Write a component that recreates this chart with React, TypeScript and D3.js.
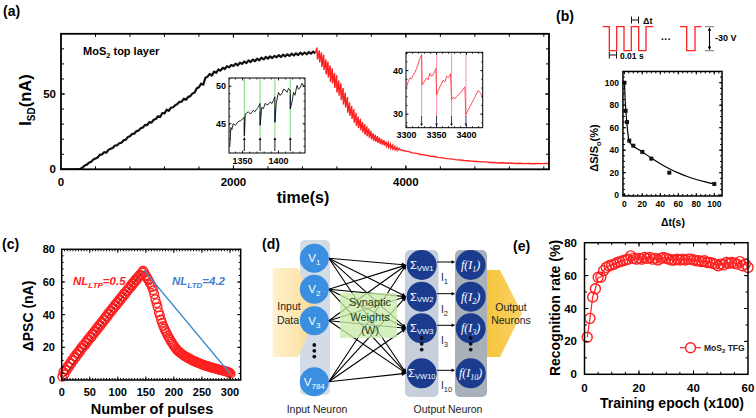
import React from 'react';
import * as d3 from 'd3';

const SANS = '"Liberation Sans", Arial, Helvetica, sans-serif';
const SERIF = '"Liberation Serif", "DejaVu Serif", serif';
const RED = '#ff2020';

/* ================= (a) data ================= */
const aXTicks = [0, 2000, 4000];
const aYTicks = [0, 50];
const aBlackStep = 25;
const aBlackValues = [
  0, 0, 0, 0, 0, 0, 0, 0, 0, 0.3, 1.2, 2.5, 3.1, 4.4, 5.0, 6.5, 7.2, 7.8, 9.6, 9.9,
  11.4, 11.0, 12.9, 13.6, 14.2, 15.8, 15.9, 17.3, 17.6, 19.2, 19.6, 21.4, 21.9, 23.5, 23.6, 25.4, 25.7, 27.2, 27.8, 29.5,
  29.4, 31.3, 31.0, 32.9, 33.4, 35.2, 34.8, 37.4, 37.1, 39.6, 38.8, 40.9, 41.2, 42.6, 43.3, 44.8, 45.0, 46.9, 46.2, 48.1,
  48.6, 50.4, 51.0, 53.8, 54.5, 56.9, 56.2, 60.8, 61.5, 63.4, 62.2, 64.9, 64.1, 66.3, 65.5, 67.4, 66.6, 68.5, 67.7, 69.3,
  68.6, 70.2, 69.1, 70.8, 70.0, 71.6, 70.5, 72.4, 71.2, 72.9, 71.8, 73.5, 72.4, 74.1, 73.0, 74.6, 73.5, 75.0, 73.9, 75.3,
  74.4, 75.8, 74.6, 76.1, 75.0, 76.4, 75.3, 76.8, 75.6, 77.0, 75.9, 77.5, 76.2, 77.6, 76.4, 77.9, 76.8, 78.2, 77.0,
];
const aPeakTime = 2968;
const aPeakValue = 80.8;
const aPulseStart = 2975;
const aPulseStep = 25;
const aPulseLows = [
  73, 71, 68, 66, 63, 61, 58, 57, 54, 51, 49, 46, 43, 41, 37.5, 35.5, 33.5, 31, 29, 27.5,
  26, 24.5, 23, 22, 21, 20, 19, 18.3, 17.6, 17, 16.4, 15.8, 15.2, 14.6, 14, 13.5, 13, 12.5,
];
const aPulseHighs = [
  79, 77.5, 76, 73, 71.5, 69, 67, 64, 62.5, 59, 57, 54, 51, 48, 44.5, 42, 40, 37.5, 35, 33.5,
  31.5, 30, 28.5, 27, 25.5, 24, 23, 22, 21, 20, 19.3, 18.5, 17.6, 16.8, 16, 15.2, 14.5, 13.8,
];
const aTailStart = 3925;
const aTailStep = 50;
const aTailValues = [
  13.2, 12.3, 11.9, 10.9, 10.6, 9.8, 9.4, 8.8, 8.5, 7.9, 7.6, 7.1, 6.9, 6.4, 6.2, 5.8, 5.7, 5.3,
  5.2, 4.9, 4.9, 4.5, 4.6, 4.2, 4.3, 4.0, 4.1, 3.9, 4.0, 3.8, 3.9, 3.7, 3.9, 3.8, 3.9, 3.8,
];

// inset 1 (LTP zoom)
const in1XTicks = [1350, 1400];
const in1YTicks = [45, 50];
const in1Time = [
  1332.2, 1333.6, 1335, 1336.8, 1340, 1343.8, 1347, 1350.9, 1352.3, 1352.5, 1353.7, 1357.9, 1361, 1364.9, 1367,
  1369.7, 1371.9, 1374.3, 1374.5, 1376.7, 1379, 1381.3, 1385, 1388.3, 1391, 1393, 1394.9, 1395.1, 1396.8, 1400,
  1402, 1404.8, 1407, 1409.4, 1412, 1414, 1416.4, 1416.6, 1418.8, 1421.1, 1423, 1425.8, 1428, 1430.5, 1432.9, 1436,
];
const in1Value = [
  42.1, 44.5, 44.2, 45.0, 44.8, 45.3, 45.4, 45.7, 45.9, 43.4, 46.3, 46.6, 46.3, 46.8, 46.6,
  47.0, 47.2, 47.7, 44.8, 47.2, 47.0, 47.7, 47.5, 47.9, 47.7, 48.1, 48.6, 45.2, 47.7, 49.2,
  48.8, 49.0, 49.6, 49.5, 49.2, 49.7, 49.5, 47.0, 47.9, 49.2, 48.8, 50.1, 49.6, 49.9, 50.4, 49.9,
];
const in1Pulses = [1352.4, 1374.4, 1395, 1416.5];
const in1PulseLows = [43.4, 44.8, 45.2, 47.0];

// inset 2 (LTD zoom)
const in2XTicks = [3300, 3350, 3400];
const in2YTicks = [30, 40];
const in2Time = [
  3300, 3303, 3305.6, 3308, 3311, 3314, 3316.7, 3319, 3322.2, 3325, 3326.1, 3330, 3333.3, 3336, 3338.9, 3341,
  3344.4, 3346.5, 3348.9, 3350, 3352, 3355.6, 3358, 3361, 3364, 3366.7, 3370, 3373.3, 3375, 3378, 3380.5, 3383.3,
  3386, 3389, 3391.7, 3394.5, 3397.2, 3398.9, 3401, 3405.6, 3409, 3413.9, 3416.5, 3419.4, 3422.2, 3424.5, 3426.7,
];
const in2Value = [
  36.3, 37.6, 38.3, 38.1, 39.0, 39.6, 40.5, 41.4, 42.8, 43.6, 36.7, 37.6, 38.3, 37.9, 39.4, 38.7,
  39.0, 39.8, 40.5, 34.4, 35.2, 36.3, 36.9, 37.8, 37.4, 38.7, 38.4, 39.3, 33.3, 33.9, 33.5, 34.0,
  34.4, 34.8, 35.1, 35.8, 36.3, 29.8, 30.6, 31.7, 32.6, 33.9, 34.6, 35.4, 35.0, 34.6, 34.0,
];
const in2Pulses = [3325, 3350, 3375, 3399];

/* ================= (b) data ================= */
const bTicks = [0, 20, 40, 60, 80, 100];
const bDt = [0.2, 1.5, 3, 5.5, 10, 20, 30, 50, 100];
const bValue = [100, 75, 65, 48.5, 44, 38.5, 32.5, 20, 10];
const bFitDt = [0.2, 1, 2, 3, 4, 5, 6, 8, 10, 15, 20, 30, 40, 50, 60, 70, 80, 90, 100];
const bFitValue = [100, 84, 72, 63, 55, 49.5, 47, 45, 43.5, 41, 38.5, 33, 28, 23.5, 19.8, 16.6, 14, 11.8, 10];

/* ================= (c) data ================= */
const cXTicks = [0, 50, 100, 150, 200, 250, 300];
const cYTicks = [0, 20, 40, 60, 80];
const cLtpStart = 1;
const cLtpStep = 2;
const cLtpValues = [
  2.0, 5.0, 3.5, 6.5, 6.0, 8.5, 8.0, 10.5, 10.0, 12.5, 12.0, 14.5, 13.8, 16.2, 15.8, 17.9, 17.5, 19.8, 19.6, 21.6,
  21.0, 23.3, 22.8, 25.0, 24.6, 26.8, 26.2, 28.4, 28.0, 30.1, 29.8, 32.0, 31.5, 33.6, 33.3, 35.5, 35.0, 37.2, 36.9, 39.0,
  38.6, 40.8, 40.4, 42.5, 42.1, 44.2, 43.9, 46.0, 45.6, 47.7, 47.3, 49.4, 49.0, 51.1, 50.8, 52.9, 52.4, 54.5, 54.2, 56.2,
  55.9, 58.0, 57.6, 59.6, 59.3, 61.3, 60.9, 62.9, 62.6, 64.4, 64.0, 66.0, 66.8,
];
const cLtdStart = 147;
const cLtdStep = 2;
const cLtdValues = [
  66.0, 64.0, 63.5, 62.0, 61.0, 59.5, 58.5, 57.0, 55.0, 52.5, 49.5, 47.0, 44.5, 41.5, 39.5, 37.0, 35.0, 33.0, 31.5, 30.0,
  28.8, 27.2, 26.0, 24.8, 23.6, 22.6, 21.5, 20.5, 19.5, 18.6, 17.9, 17.2, 16.8, 16.2, 15.6, 15.2, 14.7, 14.3, 14.0, 13.5,
  13.1, 12.8, 12.4, 12.0, 11.7, 11.4, 11.1, 10.8, 10.5, 10.2, 10.0, 9.7, 9.4, 9.2, 8.9, 8.7, 8.5, 8.2, 8.0, 7.8,
  7.6, 7.4, 7.2, 7.1, 6.9, 6.7, 6.5, 6.3, 6.1, 6.0, 5.8, 5.6, 5.4, 5.2, 5.0, 4.8, 4.5, 3.8,
];
const cLtpFitN = [0, 50, 100, 145];
const cLtpFitV = [0, 24, 47, 66.5];
const cLtdLineN = [147, 300];
const cLtdLineV = [67, 4];

/* ================= (d) labels ================= */
const dInputSubs = ['1', '2', '3', '784'];
const dOutputSubs = ['1', '2', '3', '10'];

/* ================= (e) data ================= */
const eXTicks = [0, 20, 40, 60];
const eYTicks = [0, 20, 40, 60, 80];
const eRate = [
  22.5, 34, 47, 52, 59, 59, 63, 65, 66, 66.5, 67, 68, 68.5, 69, 69.5, 70, 72, 70.5, 70, 70.5,
  70, 71, 70.5, 71, 70, 70.5, 69.5, 70.5, 71, 70.5, 70, 69.5, 69.5, 70, 69.5, 70, 69.5, 70, 70, 69.5,
  69, 69, 68.5, 69, 68, 68, 67.5, 67, 66, 67, 66.5, 68, 67.5, 68, 67.5, 67, 68.5, 66, 67, 65,
];

type Sc = d3.ScaleLinear<number, number>;

function Box(p: {
  L: number; R: number; T: number; B: number; xs: Sc; ys: Sc;
  xMaj: number[]; xMin: number[]; yMaj: number[]; yMin: number[];
  maj?: number; mn?: number; sw?: number; tw?: number; fill?: string;
}) {
  const { L, R, T, B, xs, ys, xMaj, xMin, yMaj, yMin } = p;
  const maj = p.maj ?? 4, mn = p.mn ?? 2.5, sw = p.sw ?? 1.5, tw = p.tw ?? 1;
  const els: React.ReactNode[] = [];
  const add = (k: string, x1: number, y1: number, x2: number, y2: number) =>
    els.push(<line key={k} x1={x1} y1={y1} x2={x2} y2={y2} />);
  xMin.forEach((v, i) => {
    const q = xs(v);
    if (q < L + 0.5 || q > R - 0.5) return;
    add('a' + i, q, B, q, B - mn);
    add('b' + i, q, T, q, T + mn);
  });
  xMaj.forEach((v, i) => {
    const q = xs(v);
    if (q < L + 0.5 || q > R - 0.5) return;
    add('c' + i, q, B, q, B - maj);
    add('d' + i, q, T, q, T + maj);
  });
  yMin.forEach((v, i) => {
    const q = ys(v);
    if (q < T + 0.5 || q > B - 0.5) return;
    add('e' + i, L, q, L + mn, q);
    add('f' + i, R, q, R - mn, q);
  });
  yMaj.forEach((v, i) => {
    const q = ys(v);
    if (q < T + 0.5 || q > B - 0.5) return;
    add('g' + i, L, q, L + maj, q);
    add('h' + i, R, q, R - maj, q);
  });
  return (
    <g>
      {p.fill ? <rect x={L} y={T} width={R - L} height={B - T} fill={p.fill} /> : null}
      <g stroke="#000" strokeWidth={tw} fill="none">{els}</g>
      <rect x={L} y={T} width={R - L} height={B - T} fill="none" stroke="#000" strokeWidth={sw} />
    </g>
  );
}

function Arrow({ x1, y1, x2, y2, color = '#000', head = 3.5, w = 1 }: any) {
  const ang = Math.atan2(y2 - y1, x2 - x1);
  const hx1 = x2 - head * Math.cos(ang - 0.45), hy1 = y2 - head * Math.sin(ang - 0.45);
  const hx2 = x2 - head * Math.cos(ang + 0.45), hy2 = y2 - head * Math.sin(ang + 0.45);
  return (
    <g>
      <line x1={x1} y1={y1} x2={x2 - (head * 0.6) * Math.cos(ang)} y2={y2 - (head * 0.6) * Math.sin(ang)} stroke={color} strokeWidth={w} />
      <path d={`M${x2},${y2}L${hx1},${hy1}L${hx2},${hy2}Z`} fill={color} />
    </g>
  );
}

function PanelA() {
  const x = d3.scaleLinear().domain([0, 5660]).range([61, 549]);
  const y = d3.scaleLinear().domain([0, 90]).range([169.3, 33.8]);
  const L = 61, R = 549, T = 33.8, B = 169.3;
  const line = d3.line<number[]>().x((d) => x(d[0])).y((d) => y(d[1]));
  const blackPts = aBlackValues.map((v, i) => [i * aBlackStep, v]);
  const last = blackPts[blackPts.length - 1];
  const redPts: number[][] = [last, [aPeakTime, aPeakValue]];
  aPulseLows.forEach((lo, k) => {
    const t = aPulseStart + k * aPulseStep;
    redPts.push([t, lo]);
    redPts.push([t + aPulseStep - 3, aPulseHighs[k]]);
  });
  aTailValues.forEach((v, i) => redPts.push([aTailStart + i * aTailStep, v]));

  // inset 1
  const i1x = d3.scaleLinear().domain([1331, 1437]).range([229, 305]);
  const i1y = d3.scaleLinear().domain([41.1, 51.1]).range([153, 78]);
  const i1line = d3.line<number>().x((_, i) => i1x(in1Time[i])).y((v) => i1y(v));
  // inset 2
  const i2x = d3.scaleLinear().domain([3299, 3427]).range([406, 482.7]);
  const i2y = d3.scaleLinear().domain([26.9, 44.2]).range([127.7, 52.3]);
  const i2line = d3.line<number>().x((_, i) => i2x(in2Time[i])).y((v) => i2y(v));

  return (
    <g>
      <text x={3} y={16} fontSize={14} fontWeight="bold" fontFamily={SANS}>(a)</text>
      <defs>
        <clipPath id="clipA"><rect x={L} y={T} width={R - L} height={B - T} /></clipPath>
      </defs>
      <g clipPath="url(#clipA)">
        <path d={line(blackPts) || ''} fill="none" stroke="#111" strokeWidth={2.2} strokeLinejoin="round" />
        <path d={line(redPts) || ''} fill="none" stroke={RED} strokeWidth={1.4} />
      </g>
      <Box L={L} R={R} T={T} B={B} xs={x} ys={y} xMaj={aXTicks} xMin={d3.range(0, 5660, 400)}
        yMaj={aYTicks} yMin={d3.range(0, 91, 10)} maj={4} mn={3} sw={1.8} />
      {aXTicks.map((v) => (
        <text key={v} x={x(v)} y={186} textAnchor="middle" fontSize={11.5} fontWeight="bold" fontFamily={SANS}>{v}</text>
      ))}
      {aYTicks.map((v) => (
        <text key={v} x={56} y={y(v) + 4} textAnchor="end" fontSize={11.5} fontWeight="bold" fontFamily={SANS}>{v}</text>
      ))}
      <text transform="translate(31,100) rotate(-90)" textAnchor="middle" fontSize={16.5} fontWeight="bold" fontFamily={SANS}>
        I<tspan fontSize={10} dy={4}>SD</tspan><tspan dy={-4}>(nA)</tspan>
      </text>
      <text x={303} y={203} textAnchor="middle" fontSize={16} fontWeight="bold" fontFamily={SANS}>time(s)</text>
      <text x={83} y={55} fontSize={11} fontWeight="bold" fontFamily={SANS}>
        MoS<tspan fontSize={7.5} dy={3}>2</tspan><tspan dy={-3}> top layer</tspan>
      </text>

      {/* inset 1 */}
      <rect x={229} y={78} width={76} height={75} fill="#fff" />
      {in1Pulses.map((t, i) => (
        <g key={t}>
          <line x1={i1x(t)} x2={i1x(t)} y1={78} y2={137} stroke="#8fe08f" strokeWidth={1.2} />
          <line x1={i1x(t)} x2={i1x(t)} y1={i1y(in1PulseLows[i])} y2={i1y(in1PulseLows[i] + 1.8)} stroke="#3a7bd5" strokeWidth={1.4} />
          <Arrow x1={i1x(t)} y1={151} x2={i1x(t)} y2={137} head={3.2} w={0.9} />
        </g>
      ))}
      <path d={i1line(in1Value) || ''} fill="none" stroke="#111" strokeWidth={0.9} />
      <Box L={229} R={305} T={78} B={153} xs={i1x} ys={i1y} xMaj={in1XTicks} xMin={d3.range(1340, 1437, 10)}
        yMaj={in1YTicks} yMin={d3.range(42, 52, 1)} maj={2.5} mn={1.5} sw={1} tw={0.8} />
      {in1XTicks.map((v) => (
        <text key={v} x={i1x(v)} y={164} textAnchor="middle" fontSize={9} fontWeight="bold" fontFamily={SANS}>{v}</text>
      ))}
      {in1YTicks.map((v) => (
        <text key={v} x={226} y={i1y(v) + 3} textAnchor="end" fontSize={9} fontWeight="bold" fontFamily={SANS}>{v}</text>
      ))}

      {/* inset 2 */}
      <rect x={406} y={52.3} width={76.7} height={75.4} fill="#fff" />
      {in2Pulses.map((t) => (
        <g key={t}>
          <line x1={i2x(t)} x2={i2x(t)} y1={52.3} y2={117} stroke="#ff5f80" strokeWidth={1.1} strokeDasharray="1.2,0.8" />
          <Arrow x1={i2x(t)} y1={116} x2={i2x(t)} y2={126.5} color="#1c2450" head={3.2} w={0.9} />
        </g>
      ))}
      <path d={i2line(in2Value) || ''} fill="none" stroke="#ff3a4a" strokeWidth={0.9} />
      <Box L={406} R={482.7} T={52.3} B={127.7} xs={i2x} ys={i2y} xMaj={in2XTicks} xMin={d3.range(3300, 3427, 10)}
        yMaj={in2YTicks} yMin={d3.range(28, 44.2, 2)} maj={2.5} mn={1.5} sw={1} tw={0.8} />
      {in2XTicks.map((v) => (
        <text key={v} x={i2x(v)} y={138} textAnchor="middle" fontSize={9} fontWeight="bold" fontFamily={SANS}>{v}</text>
      ))}
      {in2YTicks.map((v) => (
        <text key={v} x={403} y={i2y(v) + 3} textAnchor="end" fontSize={9} fontWeight="bold" fontFamily={SANS}>{v}</text>
      ))}
    </g>
  );
}

function PanelB() {
  const x = d3.scaleLinear().domain([0, 100]).range([624.3, 714.3]);
  const y = d3.scaleLinear().domain([0, 100]).range([195.2, 82.7]);
  const L = x(-1.5), R = x(108.6), T = y(110), B = y(-0.7);
  const fit = d3.line<number>().x((_, i) => x(bFitDt[i])).y((v) => y(v)).curve(d3.curveMonotoneX);
  const hi = 26.7, lo = 50.7;
  return (
    <g>
      <text x={556} y={21} fontSize={14} fontWeight="bold" fontFamily={SANS}>(b)</text>
      {/* pulse schematic */}
      <path d={`M602.7,${hi}H609.3V${lo}H616.7V${hi}H624V${lo}H631.3V${hi}H638.7V${lo}H646V${hi}H653.3`}
        fill="none" stroke={RED} strokeWidth={1.3} />
      <path d={`M680,${hi}H686.7V${lo}H695V${hi}H701.7`} fill="none" stroke={RED} strokeWidth={1.3} />
      <text x={666} y={43} textAnchor="middle" fontSize={10} fontWeight="bold" fontFamily={SANS}>···</text>
      <g stroke="#111" strokeWidth={1}>
        <line x1={631.5} x2={638.5} y1={20} y2={20} />
        <line x1={631.5} x2={631.5} y1={16.5} y2={23.5} />
        <line x1={638.5} x2={638.5} y1={16.5} y2={23.5} />
        <line x1={609.3} x2={616.5} y1={55} y2={55} />
        <line x1={609.3} x2={609.3} y1={51.5} y2={58.5} />
        <line x1={616.5} x2={616.5} y1={51.5} y2={58.5} />
        <line x1={705} x2={714} y1={hi} y2={hi} stroke="#777" />
        <line x1={705} x2={714} y1={lo} y2={lo} stroke="#777" />
      </g>
      <Arrow x1={709.5} y1={38} x2={709.5} y2={hi + 0.5} head={4} w={1.1} />
      <Arrow x1={709.5} y1={38} x2={709.5} y2={lo - 0.5} head={4} w={1.1} />
      <text x={643} y={24} fontSize={9} fontWeight="bold" fontFamily={SANS}>Δt</text>
      <text x={620} y={59} fontSize={8.5} fontWeight="bold" fontFamily={SANS}>0.01 s</text>
      <text x={715} y={41} fontSize={9} fontWeight="bold" fontFamily={SANS}>-30 V</text>

      <path d={fit(bFitValue) || ''} fill="none" stroke="#000" strokeWidth={1.2} />
      {bDt.map((t, i) => (
        <rect key={i} x={x(t) - 2} y={y(bValue[i]) - 2} width={4} height={4} fill="#111" />
      ))}
      <Box L={L} R={R} T={T} B={B} xs={x} ys={y} xMaj={bTicks} xMin={d3.range(0, 108, 5)}
        yMaj={bTicks} yMin={d3.range(0, 110, 5)} maj={3} mn={2} sw={1.5} />
      {bTicks.map((v) => (
        <text key={'x' + v} x={x(v)} y={207} textAnchor="middle" fontSize={8.5} fontWeight="bold" fontFamily={SANS}>{v}</text>
      ))}
      {bTicks.map((v) => (
        <text key={'y' + v} x={619} y={y(v) + 3} textAnchor="end" fontSize={8.5} fontWeight="bold" fontFamily={SANS}>{v}</text>
      ))}
      <text transform="translate(598,148) rotate(-90)" textAnchor="middle" fontSize={11} fontWeight="bold" fontFamily={SANS}>
        ΔS/S<tspan fontSize={7.5} dy={3}>o</tspan><tspan dy={-3}>(%)</tspan>
      </text>
      <text x={673} y={226} textAnchor="middle" fontSize={10.5} fontWeight="bold" fontFamily={SANS}>Δt(s)</text>
    </g>
  );
}

function PanelC() {
  const x = d3.scaleLinear().domain([0, 300]).range([61.7, 230]);
  const y = d3.scaleLinear().domain([0, 80]).range([380, 249.3]);
  const L = 61.7, R = x(319), T = 249.3, B = 380;
  const ltp = cLtpValues.map((v, i) => [cLtpStart + i * cLtpStep, v]);
  const ltd = cLtdValues.map((v, i) => [cLtdStart + i * cLtdStep, v]);
  const fit = d3.line<number>().x((_, i) => x(cLtpFitN[i])).y((v) => y(v)).curve(d3.curveMonotoneX);
  return (
    <g>
      <text x={2} y={249} fontSize={14} fontWeight="bold" fontFamily={SANS}>(c)</text>
      {ltp.concat(ltd).map((d, i) => (
        <circle key={i} cx={x(d[0])} cy={y(d[1])} r={4.3} fill="none" stroke={RED} strokeWidth={1.4} />
      ))}
      <path d={fit(cLtpFitV) || ''} fill="none" stroke="#7a1010" strokeWidth={0.8} />
      <line x1={x(cLtdLineN[0])} y1={y(cLtdLineV[0])} x2={x(cLtdLineN[1])} y2={y(cLtdLineV[1])} stroke="#3a8fd0" strokeWidth={1.3} />
      <Box L={L} R={R} T={T} B={B} xs={x} ys={y} xMaj={cXTicks} xMin={d3.range(0, 319, 5)}
        yMaj={cYTicks} yMin={d3.range(0, 80, 4)} maj={3.5} mn={2} sw={1.5} />
      {cXTicks.map((v) => (
        <text key={'x' + v} x={x(v)} y={396} textAnchor="middle" fontSize={11} fontWeight="bold" fontFamily={SANS}>{v}</text>
      ))}
      {cYTicks.map((v) => (
        <text key={'y' + v} x={55} y={y(v) + 4} textAnchor="end" fontSize={11} fontWeight="bold" fontFamily={SANS}>{v}</text>
      ))}
      <text transform="translate(33,316) rotate(-90)" textAnchor="middle" fontSize={14} fontWeight="bold" fontFamily={SANS}>ΔPSC (nA)</text>
      <text x={152} y={414} textAnchor="middle" fontSize={14.5} fontWeight="bold" fontFamily={SANS}>Number of pulses</text>
      <text x={73} y={285} fontSize={11.5} fontWeight="bold" fontStyle="italic" fill={RED} fontFamily={SANS}>
        NL<tspan fontSize={8} dy={3}>LTP</tspan><tspan dy={-3}>=0.5</tspan>
      </text>
      <text x={172} y={285} fontSize={11.5} fontWeight="bold" fontStyle="italic" fill="#3f7fcf" fontFamily={SANS}>
        NL<tspan fontSize={8} dy={3}>LTD</tspan><tspan dy={-3}>=4.2</tspan>
      </text>
    </g>
  );
}

function PanelD() {
  const vx = 314.3, vys = [258.3, 289.3, 320.7, 381.7];
  const sx = 421.7, fx = 470.7, oys = [265, 296.7, 328.3, 373.3];
  const r = 14.5;
  return (
    <g fontFamily={SANS}>
      <text x={262} y={249} fontSize={14} fontWeight="bold">(d)</text>
      <defs>
        <linearGradient id="inGrad" x1="0" x2="1" y1="0" y2="0">
          <stop offset="0" stopColor="#fff0c8" />
          <stop offset="1" stopColor="#fbd98a" />
        </linearGradient>
        <linearGradient id="outGrad" x1="0" x2="1" y1="0" y2="0">
          <stop offset="0" stopColor="#f6c53c" />
          <stop offset="1" stopColor="#f9d36a" />
        </linearGradient>
      </defs>
      {/* column backgrounds */}
      <rect x={300} y={240} width={30} height={155} rx={5} fill="#d3dbe6" />
      <rect x={405} y={250} width={33.5} height={147} rx={5} fill="#c6cfdb" />
      <rect x={455} y={250} width={32} height={147} rx={5} fill="#a8b0ba" />
      {/* arrows */}
      <polygon points="272.7,268 298,268 318,312.5 298,357 272.7,357" fill="url(#inGrad)" opacity={0.9} />
      <polygon points="487,270 500,270 522,313 500,357 487,357" fill="url(#outGrad)" />
      {/* connection lines */}
      <g>
        {vys.map((vy, i) => oys.map((oy, j) => {
          const x1 = vx + r, x2 = sx - r - 1;
          return <Arrow key={i + '-' + j} x1={x1} y1={vy} x2={x2} y2={oy} head={5} w={1.1} />;
        }))}
      </g>
      <rect x={340} y={293} width={57} height={45} fill="#c9ecab" opacity={0.78} />
      <g fontSize={11} fill="#24421c" textAnchor="middle">
        <text x={370} y={305.5}>Synaptic</text>
        <text x={370} y={320.5}>Weights</text>
        <text x={370} y={334}>(W)</text>
      </g>
      <g fontSize={10.5} fill="#222" textAnchor="middle">
        <text x={289} y={310}>Input</text>
        <text x={288} y={324}>Data</text>
        <text x={511} y={310.5}>Output</text>
        <text x={511} y={324}>Neurons</text>
      </g>
      {/* input neurons */}
      {vys.map((vy, i) => (
        <g key={i}>
          <circle cx={vx} cy={vy} r={r} fill="#3b8fe0" />
          <text x={vx} y={vy + 4} textAnchor="middle" fill="#fff" fontSize={11.5}>
            V<tspan fontSize={8} dy={3}>{dInputSubs[i]}</tspan>
          </text>
        </g>
      ))}
      {oys.map((oy, i) => (
        <g key={i}>
          <circle cx={sx} cy={oy} r={r + 0.5} fill="#1b3c8e" />
          <text x={sx} y={oy + 4} textAnchor="middle" fill="#fff" fontSize={11.5}>
            Σ<tspan fontSize={7.5} dy={1.5}>VW{dOutputSubs[i]}</tspan>
          </text>
          <circle cx={fx} cy={oy} r={r + 0.5} fill="#1b3c8e" />
          <text x={fx} y={oy + 4} textAnchor="middle" fill="#fff" fontSize={12} fontFamily={SERIF} fontStyle="italic">
            f(I<tspan fontSize={8} dy={3}>{dOutputSubs[i]}</tspan><tspan dy={-3}>)</tspan>
          </text>
          <Arrow x1={sx + r + 1} y1={oy - 3} x2={fx - r - 1} y2={oy - 3} head={4} w={1} />
          <text x={441} y={oy + 16} fontSize={10} fill="#222">
            I<tspan fontSize={7.5} dy={3}>{dOutputSubs[i]}</tspan>
          </text>
        </g>
      ))}
      {[0, 1, 2].map((k) => (
        <g key={k} fill="#111">
          <circle cx={vx} cy={345 + k * 5.8} r={1.9} />
          <circle cx={sx} cy={338 + k * 5.8} r={1.9} />
          <circle cx={fx} cy={338 + k * 5.8} r={1.9} />
        </g>
      ))}
      <text x={317} y={413} textAnchor="middle" fontSize={10.5} fill="#222">Input Neuron</text>
      <text x={448} y={413} textAnchor="middle" fontSize={10.5} fill="#222">Output Neuron</text>
    </g>
  );
}

function PanelE() {
  const x = d3.scaleLinear().domain([0, 60]).range([584.5, 748]);
  const y = d3.scaleLinear().domain([0, 80]).range([374.3, 242.7]);
  const L = 584.5, R = 748, T = 242.7, B = 374.3;
  const line = d3.line<number>().x((_, i) => x(i + 1)).y((v) => y(v));
  return (
    <g>
      <text x={513} y={251} fontSize={14} fontWeight="bold" fontFamily={SANS}>(e)</text>
      <path d={line(eRate) || ''} fill="none" stroke={RED} strokeWidth={1.2} />
      {eRate.map((v, i) => (
        <circle key={i} cx={x(i + 1)} cy={y(v)} r={5} fill="none" stroke={RED} strokeWidth={1.4} />
      ))}
      <Box L={L} R={R} T={T} B={B} xs={x} ys={y} xMaj={eXTicks} xMin={d3.range(0, 60, 5)}
        yMaj={eYTicks} yMin={d3.range(0, 80, 10)} maj={4} mn={2.5} sw={1.5} />
      {eXTicks.map((v) => (
        <text key={'x' + v} x={x(v)} y={392} textAnchor="middle" fontSize={11.5} fontWeight="bold" fontFamily={SANS}>{v}</text>
      ))}
      {eYTicks.map((v) => (
        <text key={'y' + v} x={577} y={y(v) + 4} textAnchor="end" fontSize={11.5} fontWeight="bold" fontFamily={SANS}>{v}</text>
      ))}
      <line x1={680} x2={701} y1={347.7} y2={347.7} stroke={RED} strokeWidth={1.2} />
      <circle cx={690.5} cy={347.7} r={5} fill="#fff" stroke={RED} strokeWidth={1.4} />
      <text x={704} y={350.7} fontSize={8.5} fontWeight="bold" fontFamily={SANS} fill="#222">
        MoS<tspan fontSize={6} dy={2}>2</tspan><tspan dy={-2}> TFG</tspan>
      </text>
      <text transform="translate(560,308) rotate(-90)" textAnchor="middle" fontSize={14} fontWeight="bold" fontFamily={SANS}>Recognition rate (%)</text>
      <text x={672} y={408} textAnchor="middle" fontSize={14} fontWeight="bold" fontFamily={SANS}>Training epoch (x100)</text>
    </g>
  );
}

export default function App() {
  return (
    <svg width={756} height={418} viewBox="0 0 756 418"
      style={{ position: 'absolute', left: 0, top: 0, display: 'block', background: '#fff' }}
      fontFamily={SANS}>
      <rect x={0} y={0} width={756} height={418} fill="#fff" />
      <PanelA />
      <PanelB />
      <PanelC />
      <PanelD />
      <PanelE />
    </svg>
  );
}
